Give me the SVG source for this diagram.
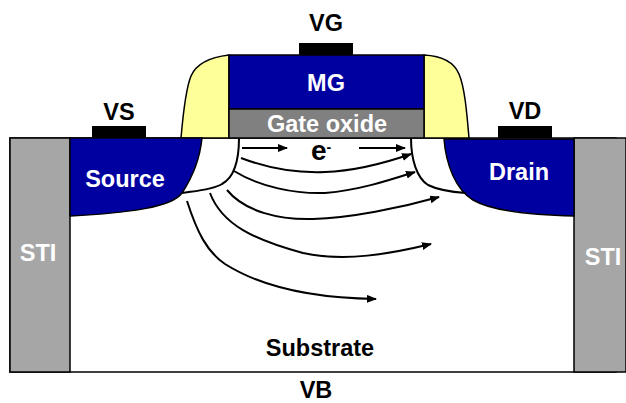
<svg xmlns="http://www.w3.org/2000/svg" width="626" height="403" viewBox="0 0 626 403">
<style>
text{font-family:"Liberation Sans",Arial,sans-serif;font-weight:bold;font-size:23.5px;text-anchor:middle}
.w{fill:#fff}.k{fill:#000}
.o{stroke:#000;stroke-width:1.5}
.c{fill:none;stroke:#000;stroke-width:2}
.f{fill:none;stroke:#000;stroke-width:2;marker-end:url(#a)}
</style>
<defs><marker id="a" markerUnits="userSpaceOnUse" markerWidth="11" markerHeight="9" refX="9" refY="4" orient="auto"><path d="M0 0L10 4L0 8Z" fill="#000"/></marker></defs>
<rect width="626" height="403" fill="#fff"/>
<g id="substrate"><rect x="10" y="138" width="606" height="234" fill="#fff" stroke="#000" stroke-width="1.5"/><text class="k" x="320" y="356">Substrate</text></g>
<g id="sti-left"><rect x="10" y="138" width="60" height="234" fill="#a6a6a6" class="o"/><text class="w" x="38" y="261">STI</text></g>
<g id="sti-right"><rect x="574" y="138" width="52" height="234" fill="#a6a6a6" class="o"/><text class="w" x="603" y="265">STI</text></g>
<g id="spacer-left"><path d="M181 138C183 115 186 88 191 76C197 62 212 57 229 55V138Z" fill="#ffff99" class="o"/></g>
<g id="spacer-right"><path d="M424 55C442 56 454 62 459 74C465 88 467 115 469 138H424Z" fill="#ffff99" class="o"/></g>
<g id="mg"><rect x="229" y="55" width="195" height="54" fill="#0000a0" class="o"/><text class="w" x="326" y="91">MG</text></g>
<g id="gate-oxide"><rect x="229" y="109" width="195" height="29" fill="#808080" class="o"/><text class="w" x="327" y="132">Gate oxide</text></g>
<g id="source"><path d="M70 138H202C200 158 192 178 182 193C172 207 130 213 70 216Z" fill="#0000a0" class="o"/><text class="w" x="125" y="187">Source</text></g>
<g id="drain"><path d="M444 139H574V216C530 215 490 210 473 200C456 190 446 165 444 139Z" fill="#0000a0" class="o"/><text class="w" x="519" y="180">Drain</text></g>
<g id="vg"><rect x="299" y="43" width="54" height="12" class="k"/><text class="k" x="326" y="31">VG</text></g>
<g id="vs"><rect x="92" y="126" width="54" height="12" class="k"/><text class="k" x="119" y="120">VS</text></g>
<g id="vd"><rect x="498" y="126" width="54" height="12" class="k"/><text class="k" x="525" y="119">VD</text></g>
<g id="vb"><text class="k" x="316" y="397.5">VB</text></g>
<g id="electron"><text class="k" x="321" y="160" style="font-size:28px">e<tspan dy="-8" style="font-size:14px">-</tspan></text></g>
<g id="connectors">
<path class="c" d="M239 138C239 160 235 177 222 184C212 190 195 191 182 193"/>
<path class="c" d="M411 138C411 160 417 178 428 185C438 190 452 192 466 193"/>
<path class="f" d="M242 148H287"/>
<path class="f" d="M359 148H405"/>
<path class="f" d="M241 158C270 169 300 173 325 172C355 171 385 163 411 154"/>
<path class="f" d="M234 171C260 187 295 194 325 193C360 190 390 180 415 172"/>
<path class="f" d="M227 190C245 212 280 220 313 219C350 218 400 208 439 197"/>
<path class="f" d="M210 193C222 225 255 240 303 253C345 262 390 254 431 244"/>
<path class="f" d="M187 201C197 232 207 252 225 264C255 283 300 298 376 299"/>
</g>
</svg>
